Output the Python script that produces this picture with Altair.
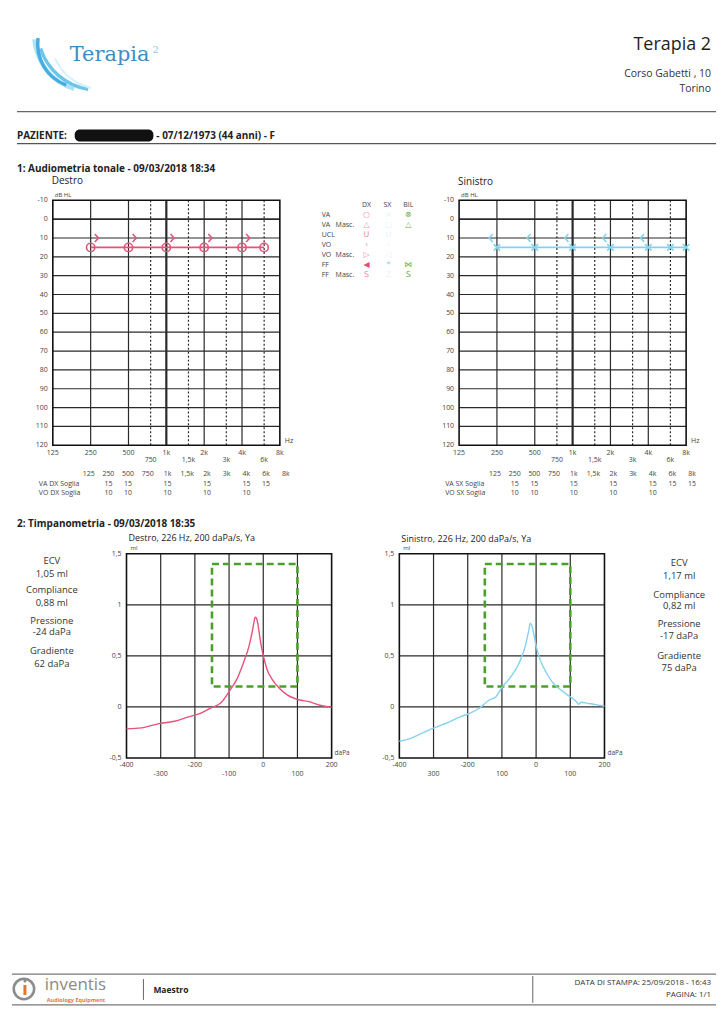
import altair as alt
import pandas as pd

FONT = "Open Sans"
PINK = "#e8527a"
BLUE = "#84d2ee"
GREEN = "#4c9f2c"
GRIDC = "#2a2a2a"
LBL = "#444444"

# ================= DATA =================
AUD_X_MAIN = [125, 250, 500, 1000, 2000, 4000, 8000]
AUD_X_MAIN_LBL = ["125", "250", "500", "1k", "2k", "4k", "8k"]
AUD_X_MID = [750, 1500, 3000, 6000]
AUD_X_MID_LBL = ["750", "1,5k", "3k", "6k"]
AUD_GRID_SOLID = [250, 500, 1000, 2000, 4000]
AUD_GRID_DOT = [750, 1500, 3000, 6000]
AUD_Y_TICKS = [-10, 0, 10, 20, 30, 40, 50, 60, 70, 80, 90, 100, 110, 120]
AUD_Y_GRID = [0, 10, 20, 30, 40, 50, 60, 70, 80, 90, 100, 110]

# right ear (Destro)
DX_VA_F = [250, 500, 1000, 2000, 4000, 6000]
DX_VA_DB = [15, 15, 15, 15, 15, 15]
DX_VO_F = [250, 500, 1000, 2000, 4000]
DX_VO_DB = [10, 10, 10, 10, 10]
# left ear (Sinistro)
SX_VA_F = [250, 500, 1000, 2000, 4000, 6000, 8000]
SX_VA_DB = [15, 15, 15, 15, 15, 15, 15]
SX_VO_F = [250, 500, 1000, 2000, 4000]
SX_VO_DB = [10, 10, 10, 10, 10]

# threshold tables
TABLE_COLS = ["125", "250", "500", "750", "1k", "1,5k", "2k", "3k", "4k", "6k", "8k"]
DX_VA_COLS = ["250", "500", "1k", "2k", "4k", "6k"]
DX_VA_VALS = [15, 15, 15, 15, 15, 15]
DX_VO_COLS = ["250", "500", "1k", "2k", "4k"]
DX_VO_VALS = [10, 10, 10, 10, 10]
SX_VA_COLS = ["250", "500", "1k", "2k", "4k", "6k", "8k"]
SX_VA_VALS = [15, 15, 15, 15, 15, 15, 15]
SX_VO_COLS = ["250", "500", "1k", "2k", "4k"]
SX_VO_VALS = [10, 10, 10, 10, 10]

# legend
LEG_ROW = [0, 1, 2, 3, 4, 5, 6]
LEG_NAME = ["VA", "VA", "UCL", "VO", "VO", "FF", "FF"]
LEG_MASC = ["", "Masc.", "", "", "Masc.", "", "Masc."]
LEG_DX = ["○", "△", "U", "›", "▷", "◀", "S"]
LEG_SX = ["×", "□", "U", "‹", "◁", "*", "Z"]
LEG_BIL = ["⊗", "△", "", "", "", "⋈", "S"]
LEG_HEAD = ["DX", "SX", "BIL"]

# tympanometry
TY_X_GRID = [-300, -200, -100, 0, 100]
TY_Y_GRID = [0, 0.5, 1]
TY_Y_TICKS = [1.5, 1, 0.5, 0, -0.5]
TY_Y_LBL = ["1,5", "1", "0,5", "0", "-0,5"]
TY_X_UP = [-400, -200, 0, 200]
TY_X_UP_LBL = ["-400", "-200", "0", "200"]
TY_X_LOW = [-300, -100, 100]
TY_X_LOW_LBL_DX = ["-300", "-100", "100"]
TY_X_LOW_LBL_SX = ["300", "100", "100"]
BOX_P = [-150, 100]
BOX_V = [0.2, 1.4]

DX_P = [-400, -356, -308, -260, -221, -182, -153, -124, -100, -76, -56, -42, -32,
        -27, -24, -20, -15, -9, -3, 4, 12, 26, 45, 69, 103, 137, 166, 200]
DX_V = [-0.215, -0.205, -0.166, -0.14, -0.10, -0.06, -0.01, 0.04, 0.15, 0.28, 0.45,
        0.59, 0.74, 0.83, 0.88, 0.87, 0.80, 0.66, 0.55, 0.45, 0.36, 0.27, 0.19,
        0.12, 0.07, 0.05, 0.016, -0.003]
SX_P = [-400, -369, -335, -302, -263, -224, -196, -167, -138, -118, -99, -75, -51,
        -32, -22, -17, -12, -6, 0, 8, 17, 31, 46, 60, 75, 90, 108, 118, 124, 132,
        150, 170, 200]
SX_V = [-0.336, -0.31, -0.26, -0.21, -0.16, -0.10, -0.065, -0.016, 0.065, 0.098,
        0.196, 0.29, 0.42, 0.59, 0.74, 0.82, 0.79, 0.70, 0.60, 0.50, 0.42, 0.33,
        0.25, 0.20, 0.16, 0.12, 0.08, 0.05, 0.026, 0.045, 0.035, 0.025, 0.006]

INFO_LABELS = ["ECV", "Compliance", "Pressione", "Gradiente"]
INFO_DX = ["1,05 ml", "0,88 ml", "-24 daPa", "62 daPa"]
INFO_SX = ["1,17 ml", "0,82 ml", "-17 daPa", "75 daPa"]

ONE = pd.DataFrame({"k": [0]})


# ================= helpers =================
def T(s, x, y, size=10, weight="normal", align="left", color="#222222", font=FONT):
    return alt.Chart(ONE).mark_text(
        text=s, fontSize=size, fontWeight=weight, align=align, baseline="middle",
        color=color, font=font
    ).encode(x=alt.value(x), y=alt.value(y))


def HR(x1, x2, y, color="#555555", w=1.0):
    return alt.Chart(ONE).mark_rule(color=color, strokeWidth=w).encode(
        x=alt.value(x1), x2=alt.value(x2), y=alt.value(y))


def VR(x, y1, y2, color="#555555", w=1.0):
    return alt.Chart(ONE).mark_rule(color=color, strokeWidth=w).encode(
        x=alt.value(x), y=alt.value(y1), y2=alt.value(y2))


def audiogram(x0, y0, va_f, va_db, vo_f, vo_db, color, va_shape, va_size, vo_shape, vo_off):
    W, H = 228, 246
    xsc = alt.Scale(type="log", domain=[125, 8000], range=[x0, x0 + W], nice=False)
    ysc = alt.Scale(domain=[-10, 120], range=[y0, y0 + H], nice=False, zero=False)

    def fx():
        return alt.X("f:Q", scale=xsc, axis=None)

    def fy():
        return alt.Y("db:Q", scale=ysc, axis=None)

    xa = alt.X(datum=125, type="quantitative", scale=xsc, axis=None)
    xb = alt.X2(datum=8000)
    ya = alt.Y(datum=-10, type="quantitative", scale=ysc, axis=None)
    yb = alt.Y2(datum=120)

    hgrid = alt.Chart(pd.DataFrame({"db": AUD_Y_GRID})).mark_rule(color=GRIDC).encode(
        y=fy(), x=xa, x2=xb,
        strokeWidth=alt.condition(alt.datum.db == 0, alt.value(1.7), alt.value(1.2)))
    vgrid = alt.Chart(pd.DataFrame({"f": AUD_GRID_SOLID})).mark_rule(color=GRIDC).encode(
        x=fx(), y=ya, y2=yb,
        strokeWidth=alt.condition(alt.datum.f == 1000, alt.value(2.2), alt.value(1.2)))
    vdot = alt.Chart(pd.DataFrame({"f": AUD_GRID_DOT})).mark_rule(
        color=GRIDC, strokeWidth=1.2, strokeDash=[2, 2]).encode(x=fx(), y=ya, y2=yb)
    frame = alt.Chart(ONE).mark_rect(fill="transparent", stroke="#111111", strokeWidth=1.6).encode(
        x=xa, x2=xb, y=ya, y2=yb)
    ylab = alt.Chart(pd.DataFrame({"db": AUD_Y_TICKS, "t": [str(v) for v in AUD_Y_TICKS]})).mark_text(
        align="right", baseline="middle", fontSize=7, color=LBL, font=FONT).encode(
        x=alt.value(x0 - 5), y=fy(), text="t:N")
    xlab1 = alt.Chart(pd.DataFrame({"f": AUD_X_MAIN, "t": AUD_X_MAIN_LBL})).mark_text(
        align="center", baseline="middle", fontSize=7, color=LBL, font=FONT).encode(
        x=fx(), y=alt.value(y0 + H + 8), text="t:N")
    xlab2 = alt.Chart(pd.DataFrame({"f": AUD_X_MID, "t": AUD_X_MID_LBL})).mark_text(
        align="center", baseline="middle", fontSize=7, color=LBL, font=FONT).encode(
        x=fx(), y=alt.value(y0 + H + 15), text="t:N")
    hz = T("Hz", x0 + W + 5, y0 + H - 4, 7, color=LBL)
    dbhl = T("dB HL", x0 + 2, y0 - 5, 6, color=LBL)
    line = alt.Chart(pd.DataFrame({"f": va_f, "db": va_db})).mark_line(
        color=color, strokeWidth=1.6).encode(x=fx(), y=fy())
    pts = alt.Chart(pd.DataFrame({"f": va_f, "db": va_db})).mark_point(
        shape=va_shape, size=va_size, filled=False, strokeWidth=1.6, color=color,
        opacity=1).encode(x=fx(), y=fy())
    bc = alt.Chart(pd.DataFrame({"f": vo_f, "db": vo_db})).mark_point(
        shape=vo_shape, size=64, filled=False, strokeWidth=1.6, color=color, opacity=1,
        xOffset=vo_off).encode(x=fx(), y=fy())
    return alt.layer(hgrid, vgrid, vdot, frame, ylab, xlab1, xlab2, hz, dbhl, line, pts, bc)


def tymp(x0, y0, p, v, color, low_lbl):
    W, H = 206, 205
    xsc = alt.Scale(domain=[-400, 200], range=[x0, x0 + W], nice=False, zero=False)
    ysc = alt.Scale(domain=[-0.5, 1.5], range=[y0 + H, y0], nice=False, zero=False)

    def fx(f="p"):
        return alt.X(f + ":Q", scale=xsc, axis=None)

    def fy(f="v"):
        return alt.Y(f + ":Q", scale=ysc, axis=None)

    xa = alt.X(datum=-400, type="quantitative", scale=xsc, axis=None)
    xb = alt.X2(datum=200)
    ya = alt.Y(datum=-0.5, type="quantitative", scale=ysc, axis=None)
    yb = alt.Y2(datum=1.5)

    vgrid = alt.Chart(pd.DataFrame({"p": TY_X_GRID})).mark_rule(color=GRIDC, strokeWidth=1.2).encode(
        x=fx(), y=ya, y2=yb)
    hgrid = alt.Chart(pd.DataFrame({"v": TY_Y_GRID})).mark_rule(color=GRIDC, strokeWidth=1.2).encode(
        y=fy(), x=xa, x2=xb)
    frame = alt.Chart(ONE).mark_rect(fill="transparent", stroke="#111111", strokeWidth=1.6).encode(
        x=xa, x2=xb, y=ya, y2=yb)
    box = alt.Chart(pd.DataFrame({"p": [BOX_P[0]], "p2": [BOX_P[1]], "v": [BOX_V[0]], "v2": [BOX_V[1]]})).mark_rect(
        fill="transparent", stroke=GREEN, strokeWidth=2.6, strokeDash=[7, 4]).encode(
        x=fx(), x2="p2:Q", y=fy(), y2="v2:Q")
    curve = alt.Chart(pd.DataFrame({"p": p, "v": v})).mark_line(
        color=color, strokeWidth=1.4, interpolate="monotone").encode(x=fx(), y=fy())
    ylab = alt.Chart(pd.DataFrame({"v": TY_Y_TICKS, "t": TY_Y_LBL})).mark_text(
        align="right", baseline="middle", fontSize=7, color=LBL, font=FONT).encode(
        x=alt.value(x0 - 5), y=fy(), text="t:N")
    xlab1 = alt.Chart(pd.DataFrame({"p": TY_X_UP, "t": TY_X_UP_LBL})).mark_text(
        align="center", baseline="middle", fontSize=7, color=LBL, font=FONT).encode(
        x=fx(), y=alt.value(y0 + H + 7), text="t:N")
    xlab2 = alt.Chart(pd.DataFrame({"p": TY_X_LOW, "t": low_lbl})).mark_text(
        align="center", baseline="middle", fontSize=7, color=LBL, font=FONT).encode(
        x=fx(), y=alt.value(y0 + H + 16), text="t:N")
    ml = T("ml", x0 + 4, y0 - 6, 6, color=LBL)
    dapa = T("daPa", x0 + W + 3, y0 + H - 5, 6.5, color=LBL)
    return alt.layer(vgrid, hgrid, frame, box, curve, ylab, xlab1, xlab2, ml, dapa)


def table(x0, y0, va_cols, va_vals, vo_cols, vo_vals, lbl_va, lbl_vo):
    W = 198
    xsc = alt.Scale(type="point", domain=TABLE_COLS, range=[x0, x0 + W], padding=0)
    X = alt.X("c:N", scale=xsc, axis=None)
    head = alt.Chart(pd.DataFrame({"c": TABLE_COLS})).mark_text(
        fontSize=7, color=LBL, font=FONT, baseline="middle").encode(
        x=X, y=alt.value(y0), text="c:N")
    va = alt.Chart(pd.DataFrame({"c": va_cols, "v": va_vals})).mark_text(
        fontSize=7, color=LBL, font=FONT, baseline="middle").encode(
        x=X, y=alt.value(y0 + 10), text="v:Q")
    vo = alt.Chart(pd.DataFrame({"c": vo_cols, "v": vo_vals})).mark_text(
        fontSize=7, color=LBL, font=FONT, baseline="middle").encode(
        x=X, y=alt.value(y0 + 19), text="v:Q")
    l1 = T(lbl_va, x0 - 50, y0 + 10, 7, color=LBL)
    l2 = T(lbl_vo, x0 - 50, y0 + 19, 7, color=LBL)
    return alt.layer(head, va, vo, l1, l2)


def legend_block(x0, y0):
    ysc = alt.Scale(domain=[-1, 6], range=[y0 + 5, y0 + 75.3])
    df = pd.DataFrame({"row": LEG_ROW, "name": LEG_NAME, "masc": LEG_MASC,
                       "dx": LEG_DX, "sx": LEG_SX, "bil": LEG_BIL})
    y = alt.Y("row:Q", scale=ysc, axis=None)
    base = alt.Chart(df)
    names = base.mark_text(align="left", baseline="middle", fontSize=7, color=LBL, font=FONT).encode(
        x=alt.value(x0 + 42), y=y, text="name:N")
    masc = base.mark_text(align="left", baseline="middle", fontSize=7, color=LBL, font=FONT).encode(
        x=alt.value(x0 + 56), y=y, text="masc:N")
    dx = base.mark_text(align="center", baseline="middle", fontSize=8, font="DejaVu Sans").encode(
        x=alt.value(x0 + 87), y=y, text="dx:N",
        color=alt.condition(alt.datum.row == 5, alt.value("#e0506e"), alt.value("#ef8ea5")))
    sx = base.mark_text(align="center", baseline="middle", fontSize=8, font="DejaVu Sans").encode(
        x=alt.value(x0 + 109), y=y, text="sx:N",
        color=alt.condition(alt.datum.row == 5, alt.value("#7fcbe8"), alt.value("#e4f4fa")))
    bil = base.mark_text(align="center", baseline="middle", fontSize=8, font="DejaVu Sans",
                         color="#6ab04a").encode(x=alt.value(x0 + 129), y=y, text="bil:N")
    hdf = pd.DataFrame({"h": LEG_HEAD, "row": [-1, -1, -1]})
    hsc = alt.Scale(type="point", domain=LEG_HEAD, range=[x0 + 87, x0 + 129], padding=0)
    head = alt.Chart(hdf).mark_text(align="center", baseline="middle", fontSize=7, color=LBL,
                                    font=FONT).encode(
        x=alt.X("h:N", scale=hsc, axis=None), y=y, text="h:N")
    return alt.layer(names, masc, dx, sx, bil, head)


layers = []

# ================= header =================
layers += [
    alt.Chart(ONE).mark_arc(radius=60, radius2=56, theta=3.45, theta2=4.62, color="#aee3f5").encode(
        x=alt.value(82), y=alt.value(24)),
    alt.Chart(ONE).mark_arc(radius=62, radius2=58.5, theta=3.3, theta2=4.4, color="#6cc6ec").encode(
        x=alt.value(88), y=alt.value(20)),
    alt.Chart(ONE).mark_arc(radius=46, radius2=42.5, theta=3.5, theta2=4.85, color="#46ade2").encode(
        x=alt.value(72), y=alt.value(34)),
    alt.Chart(ONE).mark_arc(radius=52, radius2=50, theta=3.35, theta2=4.3, color="#d6f1fa").encode(
        x=alt.value(92), y=alt.value(28)),
    T("Terapia", 60, 45, 21, font="DejaVu Serif", color="#3d8dc5"),
    T("2", 143, 40, 10, font="DejaVu Serif", color="#8cc8e6"),
    T("Terapia 2", 704, 35, 18, align="right", color="#1e1e1e"),
    T("Corso Gabetti , 10", 704, 64, 10.5, align="right", color="#333333"),
    T("Torino", 704, 79, 10.5, align="right", color="#333333"),
    HR(7, 709, 102, "#666666", 1.2),
    T("PAZIENTE:", 7, 126, 10, weight="bold"),
    alt.Chart(ONE).mark_rect(color="#111111", cornerRadius=5).encode(
        x=alt.value(65), x2=alt.value(144), y=alt.value(120), y2=alt.value(132)),
    T("- 07/12/1973 (44 anni) - F", 147, 126, 10, weight="bold"),
    HR(7, 709, 134, "#555555", 1.2),
    T("1: Audiometria tonale - 09/03/2018 18:34", 7, 160, 10, weight="bold"),
    T("Destro", 42, 172, 10),
    T("Sinistro", 450, 173, 10),
]

# ================= audiograms + legend =================
CHEV_R = "M -0.45 -1 L 0.45 0 L -0.45 1"
CHEV_L = "M 0.45 -1 L -0.45 0 L 0.45 1"
XSHAPE = "M -1 -1 L 1 1 M -1 1 L 1 -1"
layers.append(audiogram(43, 191, DX_VA_F, DX_VA_DB, DX_VO_F, DX_VO_DB, PINK, "circle", 70, CHEV_R, 6))
layers.append(legend_block(271, 191))
layers.append(audiogram(451, 191, SX_VA_F, SX_VA_DB, SX_VO_F, SX_VO_DB, BLUE, XSHAPE, 42, CHEV_L, -6))

# ================= tables + titles =================
layers.append(table(79, 466, DX_VA_COLS, DX_VA_VALS, DX_VO_COLS, DX_VO_VALS, "VA DX Soglia", "VO DX Soglia"))
layers.append(table(487, 466, SX_VA_COLS, SX_VA_VALS, SX_VO_COLS, SX_VO_VALS, "VA SX Soglia", "VO SX Soglia"))
layers += [
    T("2: Timpanometria - 09/03/2018 18:35", 7, 516, 10, weight="bold"),
    T("Destro, 226 Hz, 200 daPa/s, Ya", 119, 530, 9),
    T("Sinistro, 226 Hz, 200 daPa/s, Ya", 393, 531, 9),
]

# ================= tympanograms =================
layers.append(tymp(117, 546, DX_P, DX_V, PINK, TY_X_LOW_LBL_DX))
layers.append(tymp(391, 546, SX_P, SX_V, BLUE, TY_X_LOW_LBL_SX))
yl = [553.5, 566, 582.5, 595, 613, 625, 644, 656.5]
yr = [555.3, 568.7, 587, 598.7, 617, 628.7, 648.7, 660.3]
for i in range(4):
    layers.append(T(INFO_LABELS[i], 42, yl[2 * i], 9.5, align="center", color="#333333"))
    layers.append(T(INFO_DX[i], 42, yl[2 * i + 1], 9.5, align="center", color="#333333"))
    layers.append(T(INFO_LABELS[i], 672, yr[2 * i], 9.5, align="center", color="#333333"))
    layers.append(T(INFO_SX[i], 672, yr[2 * i + 1], 9.5, align="center", color="#333333"))

# ================= footer =================
FY = 751
layers += [
    HR(2, 709, FY + 217, "#777777", 1.2),
    alt.Chart(ONE).mark_point(shape="circle", size=420, filled=False, strokeWidth=2.6,
                              color="#8c8c8c", opacity=1).encode(x=alt.value(14), y=alt.value(FY + 232)),
    VR(15, FY + 228, FY + 238, "#e8742a", 3),
    alt.Chart(ONE).mark_point(shape="circle", size=10, filled=True, color="#8c8c8c", opacity=1).encode(
        x=alt.value(15), y=alt.value(FY + 224)),
    T("inventis", 35, FY + 228, 17, color="#8a8a8a"),
    T("Audiology Equipment", 37, FY + 243, 5.5, weight="bold", color="#e07b39"),
    VR(134, FY + 222, FY + 243, "#666666", 1),
    T("Maestro", 144, FY + 233, 8.5, weight="bold"),
    VR(525, FY + 219, FY + 246, "#666666", 1),
    T("DATA DI STAMPA: 25/09/2018 - 16:43", 704, FY + 226, 8, align="right", color="#333333"),
    T("PAGINA: 1/1", 704, FY + 238, 8, align="right", color="#333333"),
    HR(2, 709, FY + 248, "#777777", 1.2),
]

chart = alt.layer(*layers).resolve_scale(x="independent", y="independent").properties(
    width=709, height=1000, padding=0
).configure(font=FONT).configure_view(stroke="transparent")

chart.save("out.html", embed_options={"renderer": "svg", "actions": False})
